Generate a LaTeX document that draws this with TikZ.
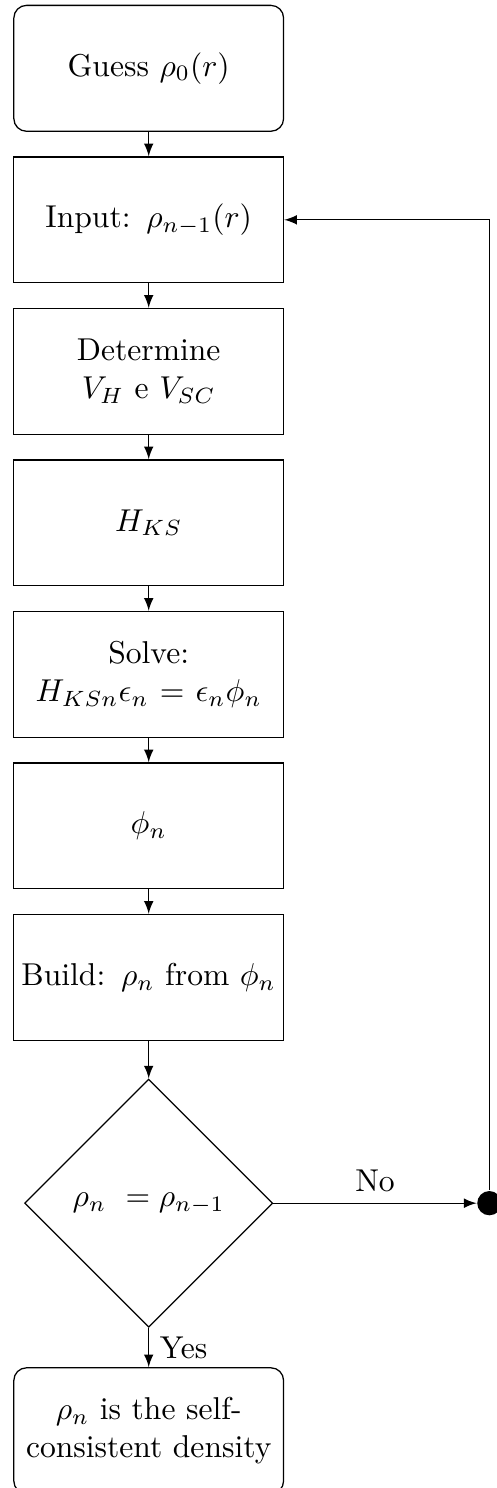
\documentclass[tikz,border=0pt]{standalone}
\usetikzlibrary{shapes.geometric}

\tikzset{
    startbox/.style={draw, rectangle, rounded corners, minimum width=3cm, minimum height=1.4cm, text width=2.9cm, inner sep=1pt, align=center},
    stepbox/.style={draw, rectangle, minimum width=3cm, minimum height=1.4cm, text width=2.9cm, inner sep=1pt, align=center},
    testbox/.style={draw, diamond, minimum width=2.76cm, minimum height=2.76cm, inner sep=0pt, align=center},
    flow/.style={-latex},
}

\begin{document}
\begin{tikzpicture}
        \useasboundingbox (0, 0) rectangle (5.517, -16.55);

        \node[startbox] (guess) at (1.654, -0.760) {Guess $\rho_0(r)$};
        \node[stepbox] (input) at (1.654, -2.445) {Input: $\rho_{n-1}(r)$};
        \node[stepbox] (pot) at (1.654, -4.130) {Determine\\ $V_H$ e $V_{SC}$};
        \node[stepbox] (ham) at (1.654, -5.815) {$H_{KS}$};
        \node[stepbox] (solve) at (1.654, -7.501) {Solve:\\ $H_{KSn}\epsilon_n = \epsilon_n\phi_n$};
        \node[stepbox] (phi) at (1.654, -9.186) {$\phi_n$};
        \node[stepbox] (build) at (1.654, -10.871) {Build: $\rho_n$ from $\phi_n$};
        \node[testbox] (check) at (1.654, -13.382) {$\rho_n \ = \rho_{n-1}$};
        \node[startbox] (done) at (1.654, -15.913) {$\rho_n$ is the self-consistent density};

        \node[circle, fill=black, minimum size=0.27cm, inner sep=0pt] (back) at (5.443, -13.382) {};

        \draw[flow] (guess) -- (input);
        \draw[flow] (input) -- (pot);
        \draw[flow] (pot) -- (ham);
        \draw[flow] (ham) -- (solve);
        \draw[flow] (solve) -- (phi);
        \draw[flow] (phi) -- (build);
        \draw[flow] (build) -- (check);
        \draw[flow] (check) -- node[right] {Yes} (done);
        \draw[flow] (check) -- node[above] {No} (back);
        \draw[flow] (back) |- (input);
    \end{tikzpicture}
\end{document}
